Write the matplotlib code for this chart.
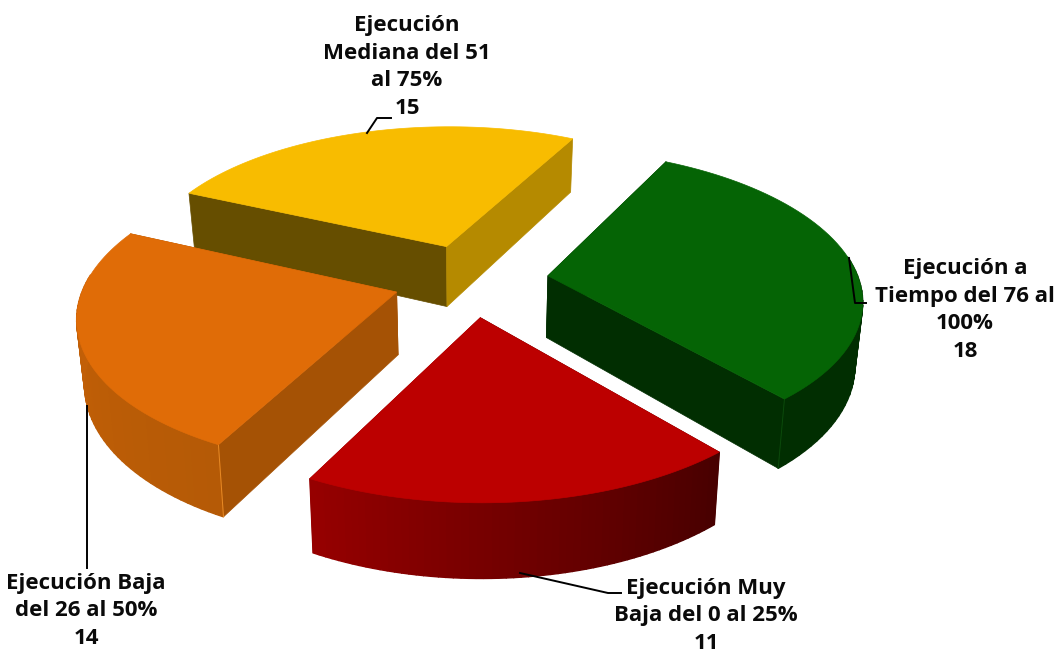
import numpy as np
import matplotlib
matplotlib.use("Agg")
import matplotlib.pyplot as plt
from matplotlib.patches import Polygon
from matplotlib.colors import to_rgb

labels = ["Ejecución a\nTiempo del 76 al\n100%\n18",
          "Ejecución Muy\nBaja del 0 al 25%\n11",
          "Ejecución Baja\ndel 26 al 50%\n14",
          "Ejecución\nMediana del 51\nal 75%\n15"]
values = [18, 11, 14, 15]
top_colors = ["#056405", "#BC0000", "#E06C07", "#F8BC00"]
start_side_colors = ["#012E01", "#5A0000", "#A55205", "#664E00"]
end_side_colors = ["#012E01", "#8E0000", "#A55205", "#B58A00"]
wall_dark = ["#012E01", "#480000", "#B55A06", "#B58A00"]
wall_light = ["#012E01", "#960000", "#C96207", "#B58A00"]
corner_colors = ["#0B4A0B", None, "#E88A25", None]

label_xy = [(965, 310), (706, 616), (86, 611), (407, 67)]
leaders = [[(849, 258), (855, 303), (866, 303)],
           [(520, 573), (608, 593), (621, 593)],
           [(87, 406), (87, 568)],
           [(367, 133), (377, 118), (391, 118)]]

START_DEG = 62.5
EXPLODE = 0.25
CX, CY, S, K, P, H = 471, 280, 311, 0.47, 0.145, 62
TAPER = 0.02


def project(x, y, z=0.0):
    w = 1 + P * np.asarray(y)
    return np.column_stack([CX + S * np.asarray(x) / w * (1 - TAPER * z),
                            CY - S * K * np.asarray(y) / w + z * H / w])


fig = plt.figure(figsize=(10.62, 6.56), dpi=100)
ax = fig.add_axes([0, 0, 1, 1])
ax.set_xlim(0, 1062)
ax.set_ylim(656, 0)
ax.axis("off")

sweeps = np.array(values) / sum(values) * 360
angles = START_DEG - np.concatenate([[0], np.cumsum(sweeps)])
slices = []
for i in range(len(values)):
    a0, a1 = angles[i], angles[i + 1]
    mid = np.radians((a0 + a1) / 2)
    ox, oy = EXPLODE * np.cos(mid), EXPLODE * np.sin(mid)
    slices.append((oy, i, a0, a1, ox, oy))

# Back-to-front so nearer slices overlap farther ones
for _, i, a0, a1, ox, oy in sorted(slices, key=lambda t: -t[0]):
    th = np.radians(np.linspace(a0, a1, 60))
    xa, ya = ox + np.cos(th), oy + np.sin(th)
    base = 1 + (1 - oy)

    # Straight inner walls
    for (ex, ey, col) in ((xa[0], ya[0], start_side_colors[i]),
                          (xa[-1], ya[-1], end_side_colors[i])):
        wx = np.array([ox, ex])
        wy = np.array([oy, ey])
        quad = np.vstack([project(wx, wy, 0), project(wx, wy, 1)[::-1]])
        ax.add_patch(Polygon(quad, closed=True, fc=col, ec=col, lw=0.5, zorder=base))

    # Curved outer wall, shaded by angle
    c0, c1 = np.array(to_rgb(wall_light[i])), np.array(to_rgb(wall_dark[i]))
    for j in range(len(th) - 1):
        if np.sin((th[j] + th[j + 1]) / 2) > 0.12:
            continue
        t = j / (len(th) - 2)
        col = c1 + (c0 - c1) * t
        wx, wy = xa[j:j + 2], ya[j:j + 2]
        quad = np.vstack([project(wx, wy, 0), project(wx, wy, 1)[::-1]])
        ax.add_patch(Polygon(quad, closed=True, fc=col, ec=col, lw=1.0, zorder=base))

    # Thin highlight on the corner between walls
    if corner_colors[i]:
        for k in (0, -1):
            seg = np.vstack([project(xa[[k]], ya[[k]], 0), project(xa[[k]], ya[[k]], 1)])
            ax.plot(seg[:, 0], seg[:, 1], color=corner_colors[i], lw=0.7, zorder=base + 0.1)

    # Top face
    top = project(np.r_[ox, xa], np.r_[oy, ya], 0)
    ax.add_patch(Polygon(top, closed=True, fc=top_colors[i], ec=top_colors[i],
                         lw=0.5, zorder=base + 0.2))

for pts in leaders:
    p = np.array(pts)
    ax.plot(p[:, 0], p[:, 1], color="black", lw=1.4, zorder=10, solid_joinstyle="round")

for txt, (x, y) in zip(labels, label_xy):
    ax.text(x, y, txt, ha="center", va="center", family="Open Sans", weight="bold",
            fontsize=16, color="#0A0A0A", linespacing=1.4, zorder=11)

fig.savefig("out.png", dpi=100, facecolor="white")
